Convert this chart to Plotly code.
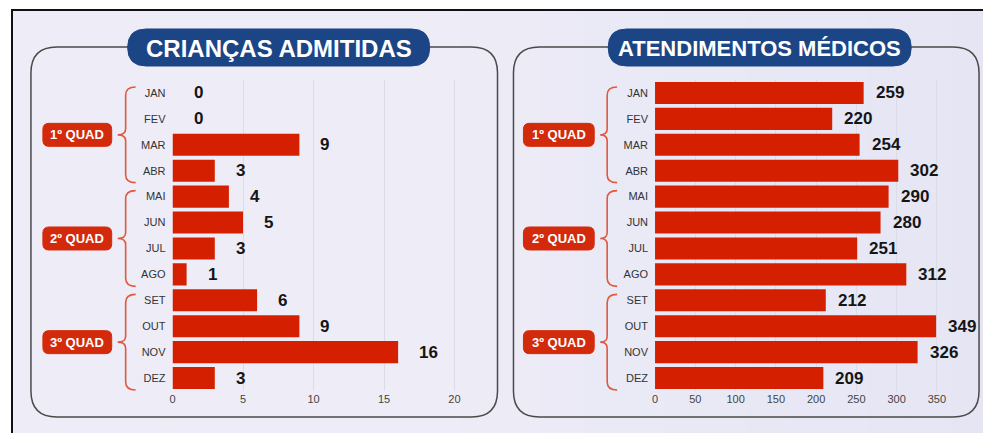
import plotly.graph_objects as go

# ---------------- data ----------------
months = ["JAN", "FEV", "MAR", "ABR", "MAI", "JUN", "JUL", "AGO", "SET", "OUT", "NOV", "DEZ"]
criancas = [0, 0, 9, 3, 4, 5, 3, 1, 6, 9, 16, 3]
atendimentos = [259, 220, 254, 302, 290, 280, 251, 312, 212, 349, 326, 209]
quads = ["1º QUAD", "2º QUAD", "3º QUAD"]
quad_months = [4, 4, 4]
titles = ["CRIANÇAS ADMITIDAS", "ATENDIMENTOS MÉDICOS"]
ticks_left = [0, 5, 10, 15, 20]
ticks_right = [0, 50, 100, 150, 200, 250, 300, 350]

# page body has an 8px margin: the figure starts at (8, 8) in the window
OX, OY = 8, 8
W, H = 991 - OX, 433 - OY


# ---------------- helpers (window pixels -> paper) ----------------
def px(x):
    return (x - OX) / W


def py(y):
    return 1 - (y - OY) / H


def P(x, y):
    return f"{px(x):.5f},{py(y):.5f}"


def rrect(x0, y0, x1, y1, r):
    return (f"M {P(x0 + r, y0)} L {P(x1 - r, y0)} Q {P(x1, y0)} {P(x1, y0 + r)} "
            f"L {P(x1, y1 - r)} Q {P(x1, y1)} {P(x1 - r, y1)} "
            f"L {P(x0 + r, y1)} Q {P(x0, y1)} {P(x0, y1 - r)} "
            f"L {P(x0, y0 + r)} Q {P(x0, y0)} {P(x0 + r, y0)} Z")


def brace(xt, xv, xp, y0, y1):
    m = (y0 + y1) / 2
    c = 8
    return (f"M {P(xt, y0)} Q {P(xv, y0)} {P(xv, y0 + c)} L {P(xv, m - 6)} "
            f"Q {P(xv, m)} {P(xp, m)} Q {P(xv, m)} {P(xv, m + 6)} "
            f"L {P(xv, y1 - c)} Q {P(xv, y1)} {P(xt, y1)}")


def lerp_hex(c0, c1, t):
    a = [int(c0[i:i + 2], 16) for i in (1, 3, 5)]
    b = [int(c1[i:i + 2], 16) for i in (1, 3, 5)]
    return "#" + "".join(f"{round(a[k] + (b[k] - a[k]) * t):02x}" for k in range(3))


BG_L = "#eeedf7"
BG_R = "#e5e5f4"
RED = "#d42000"
PILL_RED = "#d42a0c"
BRACE = "#e2583c"
BLUE = "#1c4586"
FONT = "Liberation Sans, Arial, sans-serif"

PLOT_TOP, PLOT_BOT = 80, 391
STEP = (PLOT_BOT - PLOT_TOP) / len(months)

fig = go.Figure()

fig.add_trace(go.Bar(x=criancas, y=months, orientation="h", marker=dict(color=RED, line=dict(width=0)),
                     xaxis="x", yaxis="y", hoverinfo="x+y", showlegend=False))
fig.add_trace(go.Bar(x=atendimentos, y=months, orientation="h", marker=dict(color=RED, line=dict(width=0)),
                     xaxis="x2", yaxis="y2", hoverinfo="x+y", showlegend=False))

ydom = [py(PLOT_BOT), py(PLOT_TOP)]
axis_common = dict(showline=False, zeroline=False, showgrid=True, gridcolor="#dcdbe8", gridwidth=1,
                   tickfont=dict(family=FONT, size=11, color="#444"), ticks="", fixedrange=True)
yaxis_common = dict(type="category", categoryorder="array", categoryarray=months,
                    range=[len(months) - 0.5, -0.5], showgrid=False, zeroline=False, showline=False,
                    ticks="", ticklabelstandoff=6,
                    tickfont=dict(family=FONT, size=11, color="#333"), fixedrange=True)

shapes = []
annotations = []

# outer background (soft horizontal gradient) + frame lines
NSTRIP = 24
x_start = 8
for k in range(NSTRIP):
    xa = x_start + (991 - x_start) * k / NSTRIP
    xb = x_start + (991 - x_start) * (k + 1) / NSTRIP + 0.6
    t = max(0.0, (k / (NSTRIP - 1) - 0.35) / 0.65)
    shapes.append(dict(type="rect", xref="paper", yref="paper", x0=px(xa), x1=min(1, px(xb)), y0=0, y1=py(10),
                       fillcolor=lerp_hex(BG_L, BG_R, t), line=dict(width=0), layer="below"))
shapes.append(dict(type="line", xref="paper", yref="paper", x0=px(8), x1=1, y0=py(10), y1=py(10),
                   line=dict(color="#111", width=2)))
shapes.append(dict(type="line", xref="paper", yref="paper", x0=px(9), x1=px(9), y0=0, y1=py(10),
                   line=dict(color="#111", width=2)))

panels = [
    dict(box=(28, 47, 496, 417), pill=(125, 29, 428, 66), qpill=(40, 109), br=(133, 123, 115),
         axis="x", vals=criancas, shift=19, yref="y", tsize=24),
    dict(box=(512, 47, 979, 417), pill=(607, 29, 911, 66), qpill=(522, 593), br=(616, 606, 599),
         axis="x2", vals=atendimentos, shift=10, yref="y2", tsize=22),
]

for i, p in enumerate(panels):
    x0, y0, x1, y1 = p["box"]
    shapes.append(dict(type="path", xref="paper", yref="paper", path=rrect(x0, y0, x1, y1, 26),
                       line=dict(color="#4a4a4a", width=1.5), fillcolor="rgba(0,0,0,0)", layer="below"))
    a0, b0, a1, b1 = p["pill"]
    shapes.append(dict(type="path", xref="paper", yref="paper", path=rrect(a0, b0, a1, b1, (b1 - b0) / 2),
                       line=dict(color=BLUE, width=1), fillcolor=BLUE, layer="above"))
    annotations.append(dict(xref="paper", yref="paper", x=px((a0 + a1) / 2), y=py((b0 + b1) / 2 + 1),
                            text=f"<b>{titles[i]}</b>", showarrow=False, xanchor="center", yanchor="middle",
                            font=dict(family=FONT, size=p["tsize"], color="white")))
    # quadrimester pills and braces
    start = 0
    for q, n in zip(quads, quad_months):
        top = PLOT_TOP + start * STEP
        bot = PLOT_TOP + (start + n) * STEP
        by0, by1 = top + 7, bot - 1
        mid = (by0 + by1) / 2
        xt, xv, xp = p["br"]
        shapes.append(dict(type="path", xref="paper", yref="paper", path=brace(xt, xv, xp, by0, by1),
                           line=dict(color=BRACE, width=1.6)))
        qa, qb = p["qpill"]
        shapes.append(dict(type="path", xref="paper", yref="paper",
                           path=rrect(qa, mid - 11.5, qb, mid + 11.5, 6),
                           line=dict(color=PILL_RED, width=1), fillcolor=PILL_RED))
        annotations.append(dict(xref="paper", yref="paper", x=px((qa + qb) / 2), y=py(mid),
                                text=f"<b>{q}</b>", showarrow=False, xanchor="center", yanchor="middle",
                                font=dict(family=FONT, size=13, color="white")))
        start += n
    # value labels
    for m, v in zip(months, p["vals"]):
        annotations.append(dict(xref=p["axis"], yref=p["yref"], x=v, y=m, text=f"<b>{v}</b>",
                                showarrow=False, xanchor="left", yanchor="middle", xshift=p["shift"],
                                font=dict(family=FONT, size=17, color="#151515")))

fig.update_layout(
    width=W, height=H, margin=dict(l=0, r=0, t=0, b=0),
    paper_bgcolor="white", plot_bgcolor="rgba(0,0,0,0)",
    bargap=0.15, showlegend=False,
    xaxis=dict(domain=[px(170), px(467)], range=[0, 21], tickvals=ticks_left, anchor="y", **axis_common),
    yaxis=dict(domain=ydom, anchor="x", **yaxis_common),
    xaxis2=dict(domain=[px(654), px(961)], range=[0, 380], tickvals=ticks_right, anchor="y2", **axis_common),
    yaxis2=dict(domain=ydom, anchor="x2", **yaxis_common),
    shapes=shapes, annotations=annotations,
)

fig.write_html("out.html", config={"displayModeBar": False})
